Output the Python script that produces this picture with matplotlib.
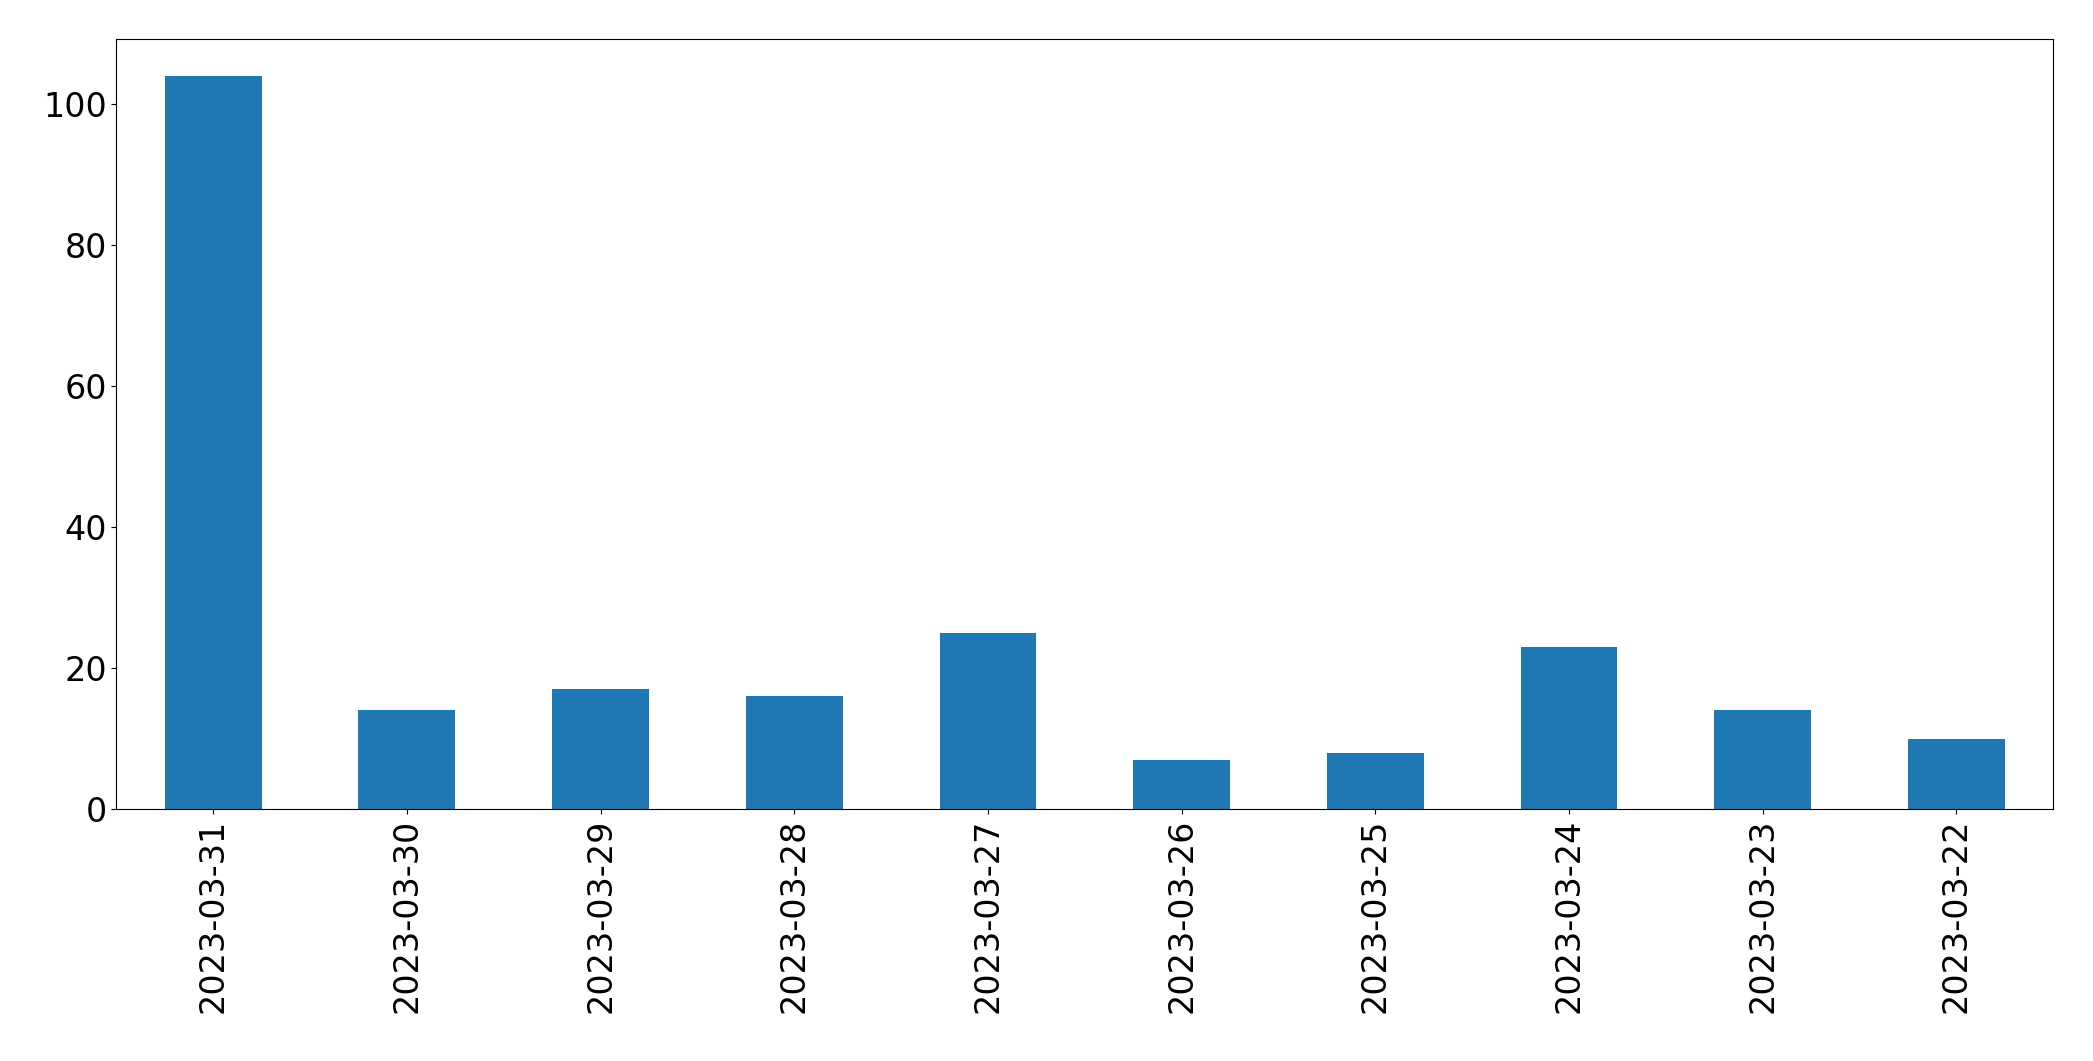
import matplotlib
matplotlib.use("Agg")
import matplotlib.pyplot as plt

dates = ["2023-03-31","2023-03-30","2023-03-29","2023-03-28","2023-03-27",
         "2023-03-26","2023-03-25","2023-03-24","2023-03-23","2023-03-22"]
counts = [104, 14, 17, 16, 25, 7, 8, 23, 14, 10]

fig = plt.figure(figsize=(20.93, 10.61), dpi=100)
ax = fig.add_axes([0.0556, 0.2375, 0.9254, 0.7255])
x = list(range(len(dates)))
ax.bar(x, counts, width=0.5, color="#1f77b4")
ax.set_xlim(-0.5, len(dates) - 0.5)
ax.set_ylim(0, max(counts) * 1.05)
ax.set_xticks(x)
ax.set_xticklabels(dates, rotation=90)
ax.tick_params(labelsize=24)
fig.savefig("out.png", dpi=100)
